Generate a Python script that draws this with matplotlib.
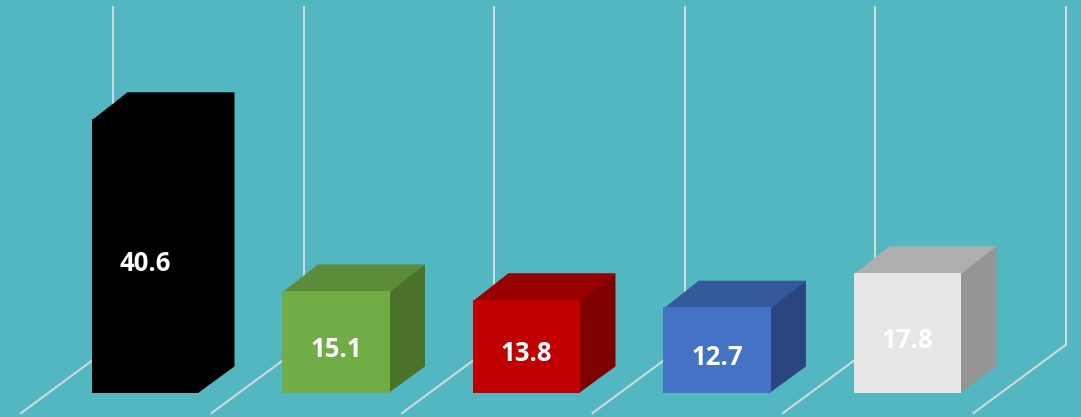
import matplotlib.pyplot as plt
from matplotlib.patches import Polygon

values = [40.6, 15.1, 13.8, 12.7, 17.8]
labels = ["40.6", "15.1", "13.8", "12.7", "17.8"]
front_colors = ["#000000", "#70AD47", "#C00000", "#4472C4", "#E7E6E6"]
top_colors = ["#000000", "#5B8C39", "#990000", "#355A9C", "#AEAEAE"]
side_colors = ["#000000", "#4A7229", "#7F0000", "#2A4680", "#959595"]

bg = "#52B7C1"
grid_color = "#CFDADB"

# layout (data units: one category per bar, value units vertically)
width = 0.562
depth_x, depth_y = 0.186, 3.93
floor_dx, floor_dy = 0.483, 10.07
floor_back, wall_top = 7.1, 57.2
grid_off = 0.33

fig = plt.figure(figsize=(10.81, 4.17), dpi=100)
fig.patch.set_facecolor(bg)
ax = fig.add_axes([0, 0, 1, 1])
ax.set_facecolor(bg)
ax.set_xlim(-0.764, 4.911)
ax.set_ylim(-3.56, 58.2)
ax.axis("off")

# back wall / floor grid
for k in range(len(values) + 1):
    gx = k - 0.5 + grid_off
    ax.plot([gx, gx], [floor_back, wall_top], color=grid_color, lw=1.5, zorder=1)
    ax.plot([gx, gx - floor_dx], [floor_back, floor_back - floor_dy],
            color=grid_color, lw=1.5, zorder=1)

for i, v in enumerate(values):
    x0, x1 = i - width / 2, i + width / 2
    front = [(x0, 0), (x1, 0), (x1, v), (x0, v)]
    top = [(x0, v - 0.2), (x1, v - 0.2), (x1 + depth_x, v + depth_y), (x0 + depth_x, v + depth_y)]
    side = [(x1 - 0.005, 0), (x1 + depth_x, depth_y), (x1 + depth_x, v + depth_y), (x1 - 0.005, v)]
    for pts, c, z in ((side, side_colors[i], 2), (top, top_colors[i], 2),
                      (front, front_colors[i], 3)):
        ax.add_patch(Polygon(pts, closed=True, facecolor=c, edgecolor="none", zorder=z))
    ax.text(i, v / 2 - 1.1, labels[i], ha="center", va="center", color="white",
            fontsize=18.5, fontweight="bold", family="Open Sans", zorder=4)

fig.savefig("out.png", dpi=100, facecolor=bg)
